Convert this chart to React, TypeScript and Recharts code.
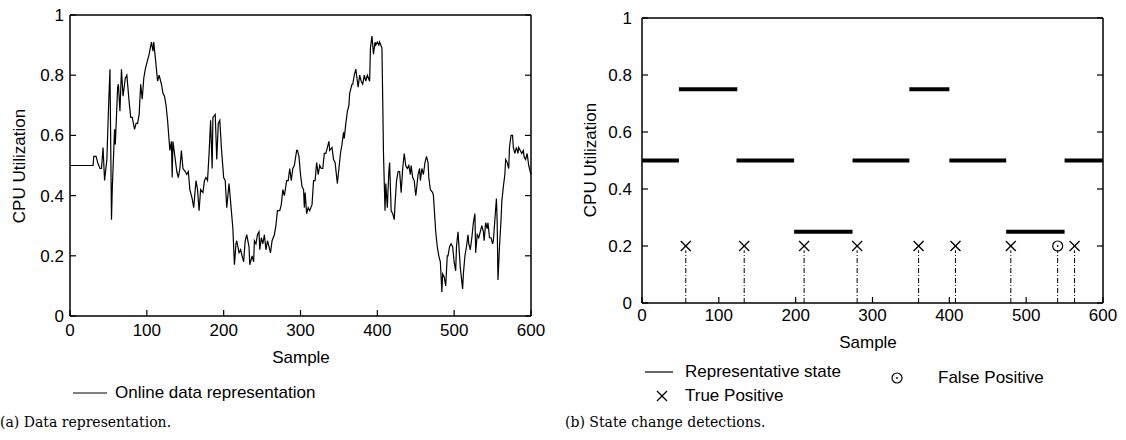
import { ComposedChart, Line, XAxis, YAxis, ReferenceLine } from "recharts";

// online CPU utilisation trace (sample index, value)
const onlineSample = [
  0, 30, 31, 34, 36, 39, 41, 43, 45, 48, 50, 52, 54, 55, 58, 59, 62, 63, 65, 67, 69, 72, 74, 77, 79, 81, 84, 86, 88, 90,
  92, 94, 96, 98, 101, 103, 106, 108, 109, 111, 114, 116, 119, 121, 123, 125, 127, 130, 132, 133, 134, 137, 139, 141, 143,
  145, 147, 150, 152, 154, 156, 159, 161, 164, 166, 168, 170, 173, 175, 177, 179, 181, 183, 185, 186, 189, 191, 193, 195,
  197, 200, 202, 204, 207, 210, 212, 214, 216, 217, 220, 222, 224, 226, 228, 230, 233, 234, 237, 239, 240, 242, 244, 246,
  247, 249, 251, 253, 255, 257, 259, 261, 263, 266, 268, 270, 273, 275, 277, 279, 282, 284, 286, 288, 290, 292, 295, 296,
  298, 300, 302, 304, 305, 306, 308, 310, 312, 315, 317, 319, 321, 323, 325, 327, 329, 331, 333, 335, 337, 338, 341, 343,
  345, 348, 350, 352, 354, 356, 357, 359, 361, 363, 364, 367, 368, 370, 372, 374, 375, 377, 379, 381, 383, 385, 387, 390,
  391, 393, 395, 397, 398, 400, 402, 403, 406, 407, 408, 410, 411, 413, 415, 416, 418, 420, 422, 423, 425, 427, 429, 431,
  433, 435, 437, 439, 441, 443, 444, 446, 448, 450, 451, 453, 455, 456, 458, 460, 462, 464, 466, 467, 469, 472, 473, 475,
  476, 478, 480, 482, 484, 485, 487, 489, 491, 492, 494, 496, 498, 500, 502, 503, 505, 507, 508, 511, 512, 514, 516, 518,
  519, 521, 523, 525, 527, 528, 530, 532, 534, 536, 538, 539, 541, 543, 544, 546, 548, 550, 551, 553, 555, 556, 557, 559,
  561, 562, 564, 566, 567, 569, 571, 572, 574, 576, 577, 579, 581, 583, 584, 586, 588, 590, 591, 593, 595, 597, 599, 600,
];
const onlineValue = [
  0.5, 0.5, 0.53, 0.53, 0.51, 0.49, 0.49, 0.56, 0.45, 0.52, 0.68, 0.82, 0.32, 0.42, 0.62, 0.57, 0.76, 0.77, 0.68, 0.82,
  0.73, 0.79, 0.8, 0.71, 0.66, 0.66, 0.62, 0.64, 0.64, 0.67, 0.77, 0.72, 0.79, 0.82, 0.85, 0.87, 0.91, 0.88, 0.91, 0.86,
  0.78, 0.8, 0.77, 0.74, 0.73, 0.7, 0.65, 0.55, 0.58, 0.46, 0.58, 0.52, 0.48, 0.46, 0.49, 0.55, 0.49, 0.48, 0.47, 0.48,
  0.42, 0.39, 0.36, 0.45, 0.42, 0.35, 0.42, 0.41, 0.45, 0.46, 0.45, 0.54, 0.65, 0.49, 0.66, 0.67, 0.52, 0.64, 0.65, 0.56,
  0.46, 0.45, 0.36, 0.44, 0.35, 0.29, 0.17, 0.24, 0.25, 0.21, 0.22, 0.2, 0.18, 0.25, 0.27, 0.23, 0.17, 0.2, 0.18, 0.25,
  0.24, 0.27, 0.28, 0.22, 0.26, 0.24, 0.27, 0.22, 0.25, 0.23, 0.21, 0.25, 0.27, 0.3, 0.35, 0.35, 0.37, 0.42, 0.4, 0.45,
  0.45, 0.49, 0.45, 0.49, 0.5, 0.55, 0.55, 0.53, 0.47, 0.43, 0.42, 0.36, 0.41, 0.34, 0.36, 0.35, 0.37, 0.45, 0.45, 0.51,
  0.47, 0.5, 0.49, 0.49, 0.54, 0.54, 0.56, 0.58, 0.55, 0.56, 0.52, 0.51, 0.44, 0.49, 0.54, 0.57, 0.61, 0.59, 0.64, 0.68,
  0.7, 0.74, 0.77, 0.77, 0.8, 0.82, 0.78, 0.76, 0.8, 0.78, 0.77, 0.8, 0.78, 0.8, 0.78, 0.89, 0.93, 0.87, 0.91, 0.9, 0.91,
  0.9, 0.91, 0.89, 0.72, 0.54, 0.35, 0.44, 0.36, 0.48, 0.51, 0.35, 0.34, 0.32, 0.37, 0.45, 0.48, 0.48, 0.41, 0.49, 0.54,
  0.5, 0.49, 0.5, 0.47, 0.5, 0.46, 0.45, 0.4, 0.42, 0.47, 0.49, 0.45, 0.49, 0.47, 0.51, 0.53, 0.51, 0.46, 0.42, 0.41,
  0.4, 0.32, 0.28, 0.23, 0.2, 0.18, 0.08, 0.14, 0.13, 0.1, 0.2, 0.2, 0.23, 0.24, 0.23, 0.18, 0.15, 0.23, 0.28, 0.2, 0.16,
  0.09, 0.14, 0.2, 0.23, 0.27, 0.24, 0.22, 0.26, 0.31, 0.34, 0.21, 0.27, 0.26, 0.28, 0.3, 0.28, 0.25, 0.31, 0.29, 0.31,
  0.26, 0.26, 0.24, 0.25, 0.32, 0.39, 0.31, 0.12, 0.23, 0.32, 0.38, 0.43, 0.47, 0.52, 0.51, 0.49, 0.56, 0.6, 0.6, 0.56,
  0.54, 0.56, 0.54, 0.56, 0.55, 0.54, 0.55, 0.53, 0.52, 0.54, 0.5, 0.48, 0.47,
];

// representative states (start, end, level)
const stateStart = [0, 48, 123, 198, 274, 348, 400, 474, 550];
const stateEnd = [48, 124, 198, 274, 348, 400, 474, 550, 600];
const stateLevel = [0.5, 0.75, 0.5, 0.25, 0.5, 0.75, 0.5, 0.25, 0.5];

// detections
const truePositive = [57, 133, 211, 280, 360, 408, 480, 563];
const falsePositive = [541];
const markerLevel = 0.2;
const stemTop = 0.185;

const xTicks = [0, 100, 200, 300, 400, 500, 600];
const yTicks = [0, 0.2, 0.4, 0.6, 0.8, 1];

const onlineData = onlineSample.map((x, i) => ({ x, y: onlineValue[i] }));

const FONT = "'Liberation Sans', Arial, Helvetica, sans-serif";
const CAPTION_FONT = "'DejaVu Serif', serif";

const makeXTick = (gap: number) => (props: any) => {
  const { x, y, payload } = props;
  return (
    <g>
      <line x1={x} x2={x} y1={y - gap} y2={y - gap - 6} stroke="#000" strokeWidth={1.2} />
      <text x={x} y={y} dy="0.71em" textAnchor="middle" fontSize={17} fontFamily={FONT} fill="#000">
        {String(payload.value)}
      </text>
    </g>
  );
};

const makeYTick = (gap: number, plotW: number) => (props: any) => {
  const { x, y, payload } = props;
  const ax = x + gap;
  return (
    <g>
      <line x1={ax} x2={ax + 6} y1={y} y2={y} stroke="#000" strokeWidth={1.2} />
      <line x1={ax + plotW - 6} x2={ax + plotW} y1={y} y2={y} stroke="#000" strokeWidth={1.2} />
      <text x={x} y={y} dy="0.355em" textAnchor="end" fontSize={17} fontFamily={FONT} fill="#000">
        {String(payload.value)}
      </text>
    </g>
  );
};

const CrossDot = (props: any) => {
  const { cx, cy, key } = props;
  if (cx == null || cy == null) return <g key={key} />;
  return (
    <g key={key}>
      <line x1={cx - 5} y1={cy - 5} x2={cx + 5} y2={cy + 5} stroke="#000" strokeWidth={1.3} />
      <line x1={cx - 5} y1={cy + 5} x2={cx + 5} y2={cy - 5} stroke="#000" strokeWidth={1.3} />
    </g>
  );
};

const CircleDot = (props: any) => {
  const { cx, cy, key } = props;
  if (cx == null || cy == null) return <g key={key} />;
  return (
    <g key={key}>
      <circle cx={cx} cy={cy} r={5} fill="none" stroke="#000" strokeWidth={1.2} />
      <circle cx={cx} cy={cy} r={0.9} fill="#000" />
    </g>
  );
};

const abs = (left: number, top: number, extra: any = {}) => ({
  position: "absolute" as const,
  left,
  top,
  fontFamily: FONT,
  fontSize: 17,
  color: "#000",
  whiteSpace: "nowrap" as const,
  ...extra,
});

function YTitle({ cx, cy }: { cx: number; cy: number }) {
  return (
    <div
      style={abs(cx - 100, cy - 10, {
        width: 200,
        height: 20,
        lineHeight: "20px",
        textAlign: "center",
        transform: "rotate(-90deg)",
      })}
    >
      CPU Utilization
    </div>
  );
}

function XTitle({ cx, cy }: { cx: number; cy: number }) {
  return (
    <div style={abs(cx - 60, cy - 10, { width: 120, height: 20, lineHeight: "20px", textAlign: "center" })}>
      Sample
    </div>
  );
}

export default function App() {
  return (
    <div style={{ position: "absolute", left: 0, top: 0, width: 1126, height: 440, background: "#fff", overflow: "hidden" }}>
      {/* (a) data representation */}
      <div style={{ position: "absolute", left: 0, top: 0 }}>
        <ComposedChart width={560} height={340} data={onlineData} margin={{ top: 15, right: 29, left: 0, bottom: 0 }}>
          <XAxis
            dataKey="x"
            type="number"
            domain={[0, 600]}
            ticks={xTicks}
            height={24}
            tickSize={0}
            tickMargin={8}
            axisLine={{ stroke: "#000", strokeWidth: 1.5 }}
            tickLine={false}
            tick={makeXTick(8)}
            interval={0}
          />
          <YAxis
            type="number"
            domain={[0, 1]}
            ticks={yTicks}
            width={70}
            tickSize={0}
            tickMargin={6}
            axisLine={{ stroke: "#000", strokeWidth: 1.5 }}
            tickLine={false}
            tick={makeYTick(6, 461)}
            interval={0}
          />
          <ReferenceLine y={1} stroke="#000" strokeWidth={1.5} />
          <ReferenceLine x={600} stroke="#000" strokeWidth={1.5} />
          <Line
            dataKey="y"
            type="linear"
            stroke="#000"
            strokeWidth={1.2}
            dot={false}
            isAnimationActive={false}
          />
        </ComposedChart>
      </div>
      <YTitle cx={20} cy={166} />
      <XTitle cx={301} cy={358} />
      <svg style={{ position: "absolute", left: 0, top: 0 }} width={1126} height={440}>
        <line x1={73} x2={107} y1={393} y2={393} stroke="#000" strokeWidth={1.2} />
        <line x1={645} x2={673} y1={372} y2={372} stroke="#000" strokeWidth={1.2} />
        <CrossDot cx={662} cy={396} />
        <CircleDot cx={897} cy={378} />
      </svg>
      <div style={abs(115, 383, { lineHeight: "20px" })}>Online data representation</div>

      {/* (b) state change detections */}
      <div style={{ position: "absolute", left: 560, top: 0 }}>
        <ComposedChart width={560} height={330} margin={{ top: 18, right: 17, left: 0, bottom: 0 }}>
          <XAxis
            dataKey="x"
            type="number"
            domain={[0, 600]}
            ticks={xTicks}
            height={27}
            tickSize={0}
            tickMargin={6}
            axisLine={{ stroke: "#000", strokeWidth: 1.5 }}
            tickLine={false}
            tick={makeXTick(6)}
            interval={0}
            allowDuplicatedCategory={false}
          />
          <YAxis
            type="number"
            domain={[0, 1]}
            ticks={yTicks}
            width={82}
            tickSize={0}
            tickMargin={10}
            axisLine={{ stroke: "#000", strokeWidth: 1.5 }}
            tickLine={false}
            tick={makeYTick(10, 461)}
            interval={0}
          />
          <ReferenceLine y={1} stroke="#000" strokeWidth={1.5} />
          <ReferenceLine x={600} stroke="#000" strokeWidth={1.5} />
          {truePositive.concat(falsePositive).map((v) => (
            <ReferenceLine
              key={"s" + v}
              segment={[
                { x: v, y: 0 },
                { x: v, y: stemTop },
              ]}
              stroke="#000"
              strokeWidth={1}
              strokeDasharray="5 2 1 2"
            />
          ))}
          {stateStart.map((s, i) => (
            <Line
              key={"st" + i}
              data={[
                { x: s, y: stateLevel[i] },
                { x: stateEnd[i], y: stateLevel[i] },
              ]}
              dataKey="y"
              type="linear"
              stroke="#000"
              strokeWidth={4}
              dot={false}
              isAnimationActive={false}
            />
          ))}
          <Line
            data={truePositive.map((x) => ({ x, y: markerLevel }))}
            dataKey="y"
            stroke="none"
            dot={CrossDot}
            activeDot={false}
            isAnimationActive={false}
          />
          <Line
            data={falsePositive.map((x) => ({ x, y: markerLevel }))}
            dataKey="y"
            stroke="none"
            dot={CircleDot}
            activeDot={false}
            isAnimationActive={false}
          />
        </ComposedChart>
      </div>
      <YTitle cx={591} cy={160} />
      <XTitle cx={868} cy={343} />
      <div style={abs(685, 362, { lineHeight: "20px" })}>Representative state</div>
      <div style={abs(685, 386, { lineHeight: "20px" })}>True Positive</div>
      <div style={abs(938, 368, { lineHeight: "20px" })}>False Positive</div>

      <div style={{ position: "absolute", left: 0, top: 412, fontFamily: CAPTION_FONT, fontSize: 14, lineHeight: "20px", whiteSpace: "nowrap" }}>
        (a) Data representation.
      </div>
      <div style={{ position: "absolute", left: 565, top: 412, fontFamily: CAPTION_FONT, fontSize: 14, lineHeight: "20px", whiteSpace: "nowrap" }}>
        (b) State change detections.
      </div>
    </div>
  );
}
